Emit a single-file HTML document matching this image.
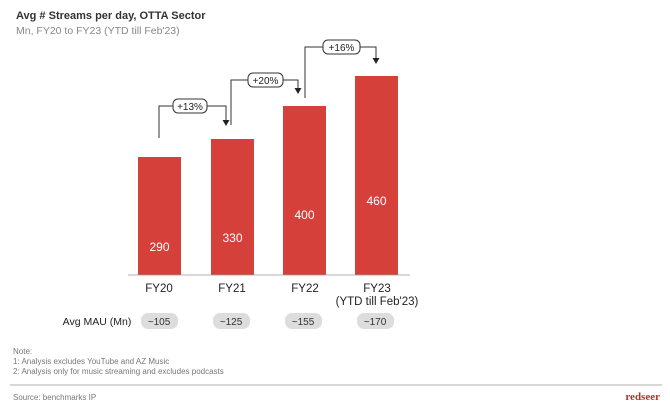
<!DOCTYPE html><html><head><style>
body{margin:0;width:670px;height:408px;background:#fff;font-family:"Liberation Sans",sans-serif;position:relative;overflow:hidden}
.t{position:absolute;white-space:nowrap}
</style></head><body>
<div class="t" style="left:16px;top:10px;font-size:11px;font-weight:bold;color:#333">Avg # Streams per day, OTTA Sector</div>
<div class="t" style="left:16px;top:25px;font-size:10.5px;color:#888">Mn, FY20 to FY23 (YTD till Feb'23)</div>
<svg width="670" height="408" style="position:absolute;left:0;top:0" font-family="Liberation Sans">
<rect x="138" y="157" width="43" height="118" fill="#d6403a"/>
<rect x="211" y="139" width="43" height="136" fill="#d6403a"/>
<rect x="283" y="106" width="43" height="169" fill="#d6403a"/>
<rect x="355" y="76" width="43" height="199" fill="#d6403a"/>
<line x1="128" y1="275" x2="410" y2="275" stroke="#999" stroke-width="0.8"/>
<g fill="#fff" font-size="12" text-anchor="middle"><text x="159.5" y="251">290</text><text x="232.5" y="242">330</text><text x="304.5" y="219">400</text><text x="376.5" y="205">460</text></g>
<g fill="none" stroke="#333" stroke-width="1">
<polyline points="159,138 159,106 173,106"/><polyline points="207,106 226,106 226,120"/>
<polyline points="231,125 231,80 248,80"/><polyline points="283,80 298,80 298,88"/>
<polyline points="305,98 305,47 323,47"/><polyline points="360,47 376,47 376,58"/>
<rect x="173" y="99" width="34" height="14" rx="5" fill="#fff"/>
<rect x="248" y="73" width="35" height="14" rx="5" fill="#fff"/>
<rect x="323" y="40" width="37" height="14" rx="5" fill="#fff"/>
</g>
<g fill="#222"><path d="M222.5,120 L229.5,120 L226,126 Z"/><path d="M294.5,88 L301.5,88 L298,94 Z"/><path d="M372.5,58 L379.5,58 L376,64 Z"/></g>
<g font-size="10" fill="#222" text-anchor="middle"><text x="190" y="110">+13%</text><text x="265.5" y="84">+20%</text><text x="341.5" y="51">+16%</text></g>
<g font-size="11.5" fill="#222" text-anchor="middle"><text x="159" y="292">FY20</text><text x="232" y="292">FY21</text><text x="305" y="292">FY22</text><text x="377" y="292">FY23</text><text x="377" y="305">(YTD till Feb'23)</text></g>
<text x="97" y="325" font-size="10.5" fill="#222" text-anchor="middle">Avg MAU (Mn)</text>
<g fill="#ddd"><rect x="141" y="313" width="37" height="16" rx="7"/><rect x="213" y="313" width="37" height="16" rx="7"/><rect x="285" y="313" width="37" height="16" rx="7"/><rect x="357" y="313" width="37" height="16" rx="7"/></g>
<g font-size="10" fill="#333" text-anchor="middle"><text x="159" y="325">~105</text><text x="231" y="325">~125</text><text x="303" y="325">~155</text><text x="375" y="325">~170</text></g>
<g font-size="8" fill="#777"><text x="13" y="354">Note:</text><text x="13" y="364">1:  Analysis excludes YouTube and AZ Music</text><text x="13" y="374">2:  Analysis only for music streaming and excludes podcasts</text><text x="13" y="400">Source: benchmarks IP</text></g>
<line x1="10" y1="385" x2="662" y2="385" stroke="#999" stroke-width="0.8"/>
<text x="660" y="400" font-size="11" font-family="Liberation Serif" fill="#b3302a" text-anchor="end" font-weight="bold">redseer</text>
</svg>
</body></html>
